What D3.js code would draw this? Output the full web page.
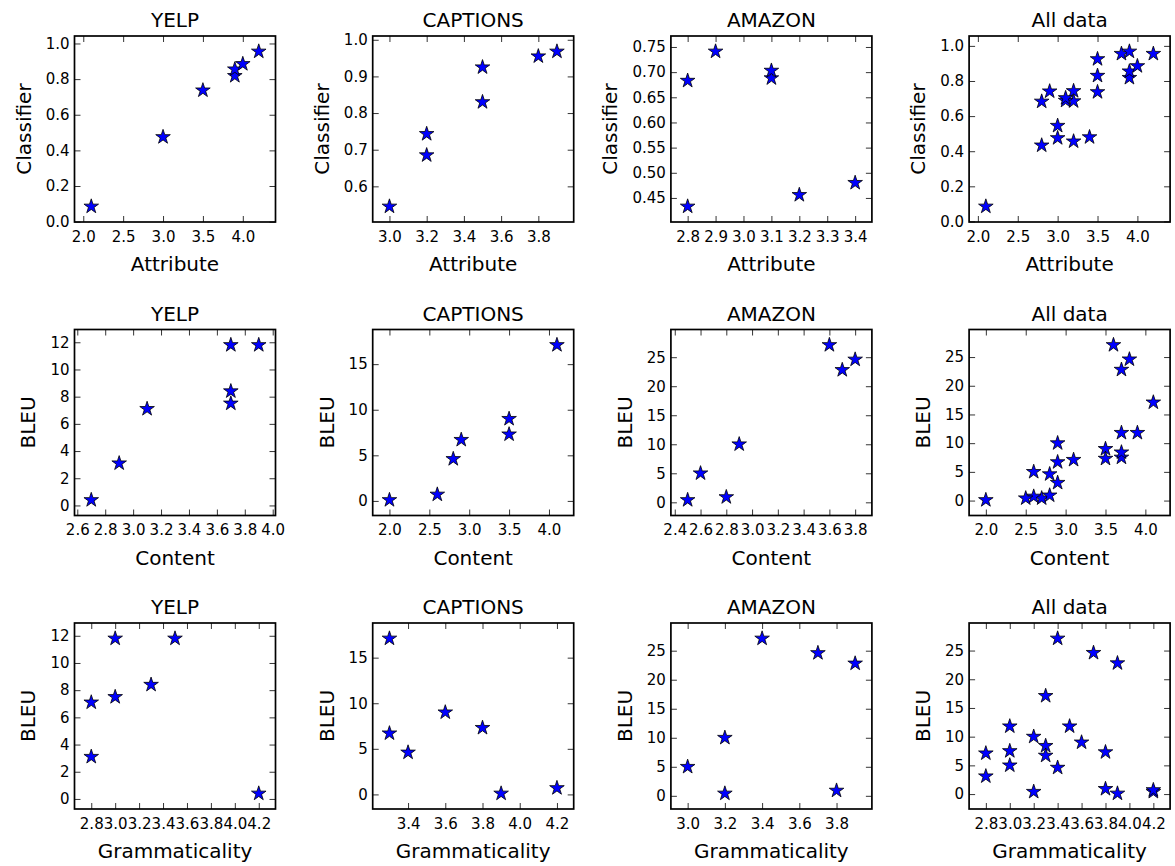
<!DOCTYPE html>
<html>
<head>
<meta charset="utf-8">
<script src="https://cdn.jsdelivr.net/npm/d3@7"></script>
<style>
  html, body { margin: 0; padding: 0; background: #fff; }
  svg { display: block; font-family: "DejaVu Sans", sans-serif; }
</style>
</head>
<body>
<svg id="chart" width="1175" height="866"></svg>
<script>
// human scores per system, top row (attribute vs classifier)
const yelpAttribute = [2.1, 3.0, 3.5, 3.9, 3.9, 4.0, 4.2];
const yelpClassifier = [0.085, 0.475, 0.737, 0.818, 0.855, 0.885, 0.955];
const captionsAttribute = [3.0, 3.2, 3.2, 3.5, 3.5, 3.8, 3.9];
const captionsClassifier = [0.545, 0.685, 0.743, 0.83, 0.925, 0.955, 0.968];
const amazonAttribute = [2.8, 2.8, 2.9, 3.1, 3.1, 3.2, 3.4];
const amazonClassifier = [0.433, 0.683, 0.741, 0.688, 0.703, 0.456, 0.48];

// content / grammaticality vs BLEU (same systems in rows 2 and 3)
const yelpContent = [2.7, 2.9, 3.1, 3.7, 3.7, 3.7, 3.9];
const yelpGrammar = [4.2, 2.8, 2.8, 3.0, 3.3, 3.0, 3.5];
const yelpBleu = [0.4, 3.1, 7.1, 7.5, 8.4, 11.8, 11.8];
const captionsContent = [2.0, 2.6, 2.8, 2.9, 3.5, 3.5, 4.1];
const captionsGrammar = [3.9, 4.2, 3.4, 3.3, 3.6, 3.8, 3.3];
const captionsBleu = [0.1, 0.7, 4.6, 6.7, 9.0, 7.3, 17.1];
const amazonContent = [2.6, 2.9, 2.8, 2.5, 3.6, 3.7, 3.8];
const amazonGrammar = [3.0, 3.2, 3.8, 3.2, 3.4, 3.9, 3.7];
const amazonBleu = [5.0, 10.0, 0.9, 0.4, 27.1, 22.8, 24.6];

const titles = ["YELP", "CAPTIONS", "AMAZON", "All data"];
const xLabels = ["Attribute", "Content", "Grammaticality"];
const yLabels = ["Classifier", "BLEU", "BLEU"];

const grid = [
  [[yelpAttribute, yelpClassifier], [captionsAttribute, captionsClassifier], [amazonAttribute, amazonClassifier]],
  [[yelpContent, yelpBleu], [captionsContent, captionsBleu], [amazonContent, amazonBleu]],
  [[yelpGrammar, yelpBleu], [captionsGrammar, captionsBleu], [amazonGrammar, amazonBleu]]
];
// last column pools all three datasets
grid.forEach(row => row.push([d3.merge(row.map(p => p[0])), d3.merge(row.map(p => p[1]))]));

const svg = d3.select("#chart");
const W = 201, H = 186;
const left0 = 74.5, colStep = 298.2, top0 = 36, rowStep = 293.5;

function pad(ext) {
  const r = ext[1] - ext[0];
  return [ext[0] - 0.1 * r, ext[1] + 0.1 * r];
}

grid.forEach((row, r) => {
  row.forEach(([xs, ys], c) => {
    const g = svg.append("g")
      .attr("transform", "translate(" + (left0 + c * colStep) + "," + (top0 + r * rowStep) + ")");

    const x = d3.scaleLinear().domain(pad(d3.extent(xs))).range([0, W]);
    const y = d3.scaleLinear().domain(pad(d3.extent(ys))).range([H, 0]);

    g.append("g").attr("transform", "translate(0," + H + ")")
      .call(d3.axisBottom(x).ticks(6).tickSizeInner(-6).tickSizeOuter(0).tickPadding(9));
    g.append("g")
      .call(d3.axisTop(x).ticks(6).tickSizeInner(-6).tickSizeOuter(0).tickFormat(""));
    const yAxis = g.append("g")
      .call(d3.axisLeft(y).ticks(6).tickSizeInner(-6).tickSizeOuter(0).tickPadding(5));
    g.append("g").attr("transform", "translate(" + W + ",0)")
      .call(d3.axisRight(y).ticks(6).tickSizeInner(-6).tickSizeOuter(0).tickFormat(""));

    g.selectAll(".domain").remove();
    g.selectAll(".tick line").attr("stroke", "#000").attr("stroke-width", 0.8);
    g.selectAll(".tick text").attr("font-family", "DejaVu Sans").attr("font-size", 15).attr("fill", "#000");

    g.selectAll(".star")
      .data(xs.map((v, i) => [v, ys[i]]))
      .enter().append("path")
      .attr("class", "star")
      .attr("d", d3.symbol(d3.symbolStar, 66))
      .attr("transform", d => "translate(" + x(d[0]) + "," + y(d[1]) + ")")
      .attr("fill", "#0000ff")
      .attr("stroke", "#000")
      .attr("stroke-width", 0.8);

    g.append("rect")
      .attr("width", W).attr("height", H)
      .attr("fill", "none").attr("stroke", "#000").attr("stroke-width", 1.7);

    g.append("text")
      .attr("x", W / 2).attr("y", -9)
      .attr("text-anchor", "middle")
      .attr("font-size", 20)
      .text(titles[c]);

    g.append("text")
      .attr("x", W / 2).attr("y", H + 49)
      .attr("text-anchor", "middle")
      .attr("font-size", 20)
      .text(xLabels[r]);

    // y label sits just left of the widest tick label
    const minX = d3.min(yAxis.selectAll("text").nodes(), n => n.getBBox().x);
    g.append("text")
      .attr("transform", "translate(" + (minX - 15) + "," + (H / 2) + ") rotate(-90)")
      .attr("text-anchor", "middle")
      .attr("font-size", 20)
      .text(yLabels[r]);
  });
});
</script>
</body>
</html>
